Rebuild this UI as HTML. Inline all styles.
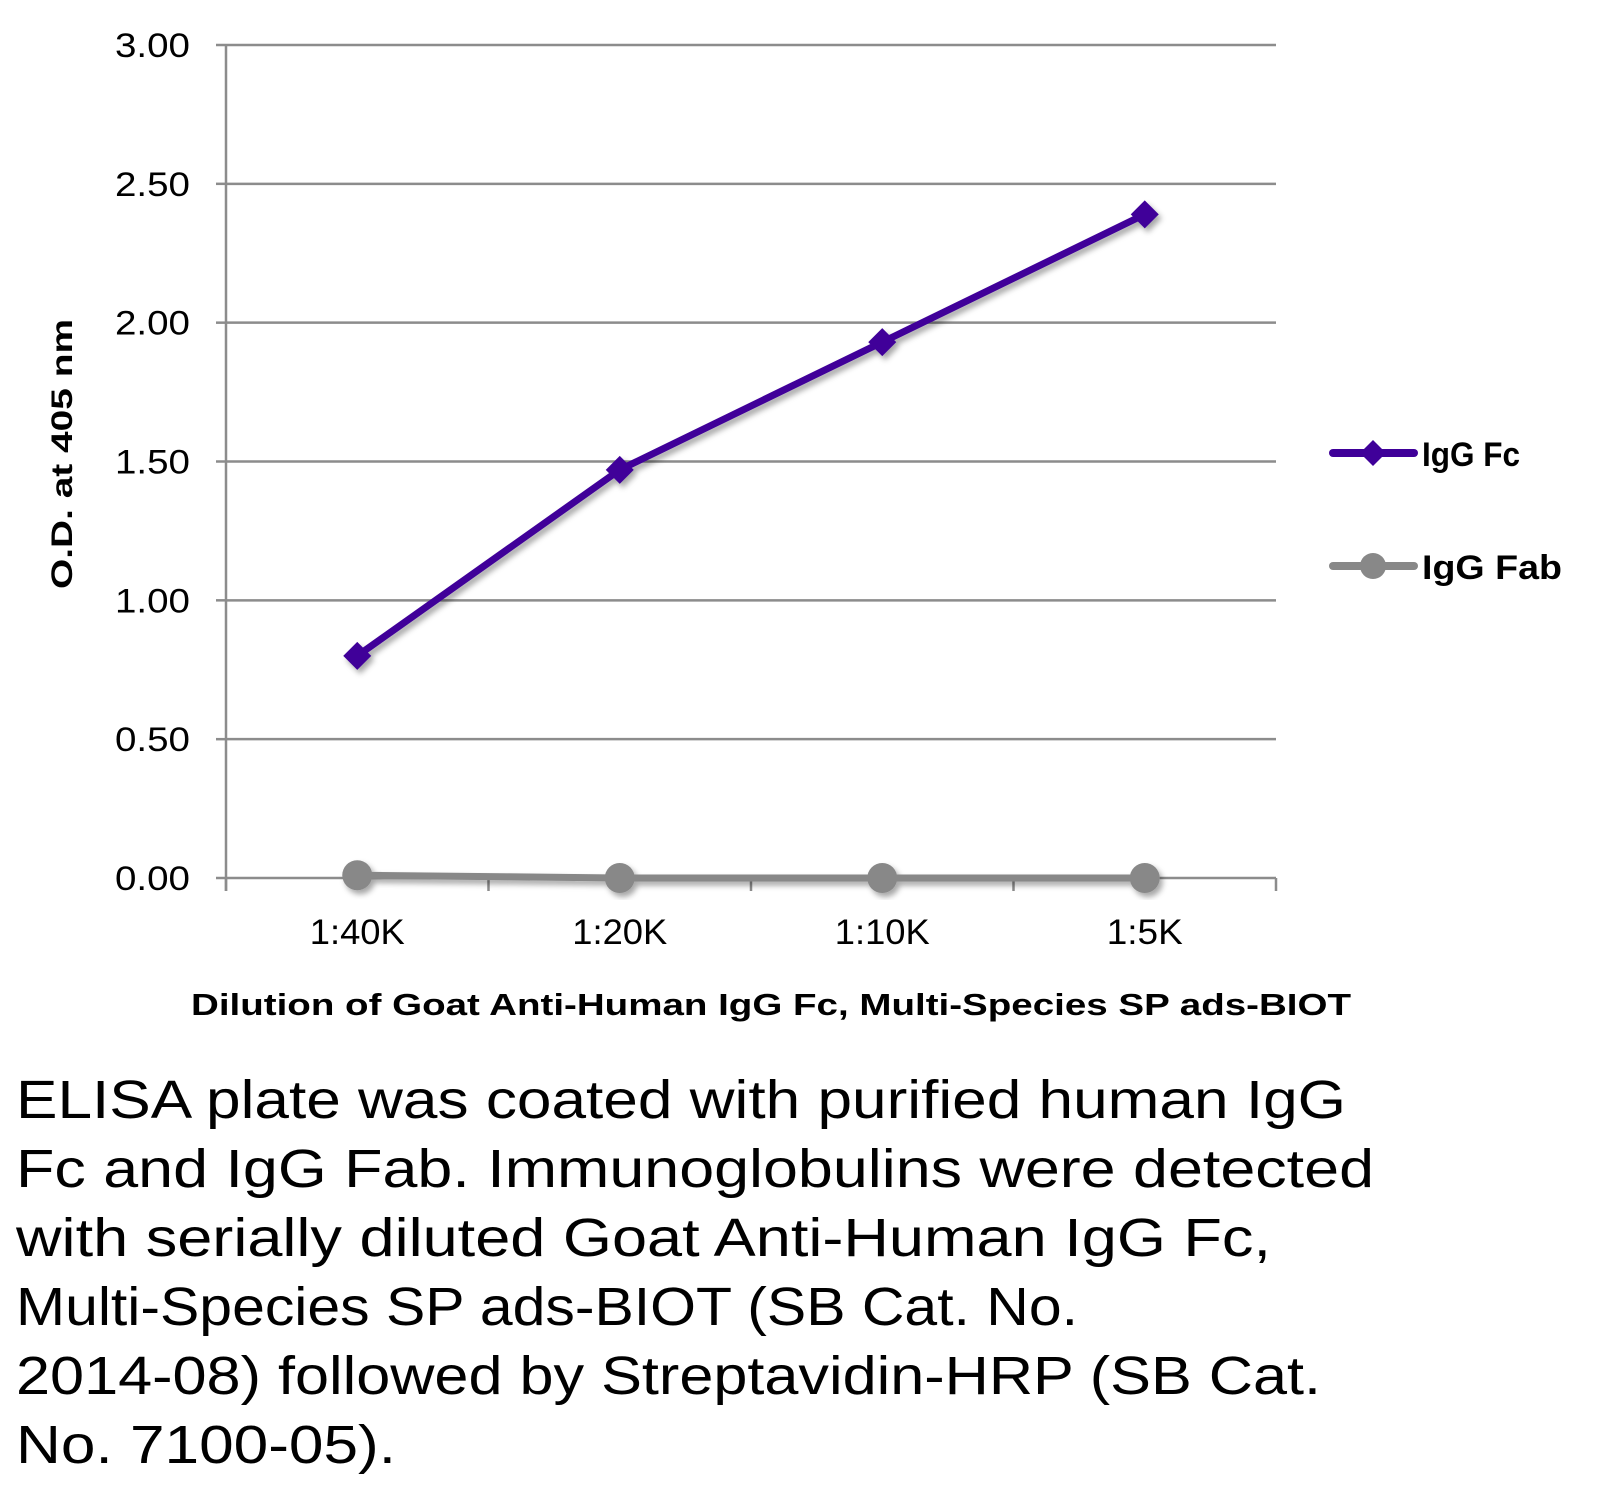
<!DOCTYPE html>
<html><head><meta charset="utf-8"><style>
html,body{margin:0;padding:0;background:#fff;}
svg{display:block;font-family:"Liberation Sans",sans-serif;}
</style></head><body>
<svg id="chart" width="1608" height="1485" viewBox="0 0 1608 1485">
<defs><filter id="sh" x="-20%" y="-20%" width="140%" height="140%"><feDropShadow dx="3" dy="4" stdDeviation="3" flood-color="#000" flood-opacity="0.35"/></filter></defs>
<g id="grid"></g><g id="axes"></g><g id="series"></g>
<text x="64" y="454" transform="rotate(-90 64 454)" text-anchor="middle" dominant-baseline="middle" font-size="30" font-weight="bold" textLength="270" lengthAdjust="spacingAndGlyphs">O.D. at 405 nm</text>
<text x="771" y="1015" text-anchor="middle" font-size="31" font-weight="bold" textLength="1160" lengthAdjust="spacingAndGlyphs">Dilution of Goat Anti-Human IgG Fc, Multi-Species SP ads-BIOT</text>
<g>
<g>
<line x1="1333" y1="453" x2="1414" y2="453" stroke="#3f0099" stroke-width="8" stroke-linecap="round"/>
<polygon points="1373,440 1386,453 1373,466 1360,453" fill="#3f0099"/>
<text x="1422" y="466" font-size="34" font-weight="bold" textLength="98" lengthAdjust="spacingAndGlyphs">IgG Fc</text></g>
<g>
<line x1="1333" y1="566" x2="1414" y2="566" stroke="#888" stroke-width="8" stroke-linecap="round"/>
<circle cx="1373" cy="566" r="13" fill="#888"/>
<text x="1422" y="579" font-size="34" font-weight="bold" textLength="140" lengthAdjust="spacingAndGlyphs">IgG Fab</text></g>
</g>
<g font-size="54">
<text x="16" y="1118" textLength="1330" lengthAdjust="spacingAndGlyphs">ELISA plate was coated with purified human IgG</text>
<text x="16" y="1187" textLength="1358" lengthAdjust="spacingAndGlyphs">Fc and IgG Fab.  Immunoglobulins were detected</text>
<text x="16" y="1256" textLength="1255" lengthAdjust="spacingAndGlyphs">with serially diluted Goat Anti-Human IgG Fc,</text>
<text x="16" y="1325" textLength="1062" lengthAdjust="spacingAndGlyphs">Multi-Species SP ads-BIOT (SB Cat. No.</text>
<text x="16" y="1394" textLength="1305" lengthAdjust="spacingAndGlyphs">2014-08) followed by Streptavidin-HRP (SB Cat.</text>
<text x="16" y="1463" textLength="380" lengthAdjust="spacingAndGlyphs">No. 7100-05).</text>
</g>
</svg>
<script>
const categories=["1:40K","1:20K","1:10K","1:5K"];
const fcValues=[0.80,1.47,1.93,2.39];
const fabValues=[0.01,0.00,0.00,0.00];
const yTicks=[0,0.5,1,1.5,2,2.5,3];
const yTickLabels=["0.00","0.50","1.00","1.50","2.00","2.50","3.00"];
const NS="http://www.w3.org/2000/svg";
const L=226,R=1276,T=45,B=878,YMAX=3;
const xs=i=>L+(R-L)/categories.length*(i+0.5);
const ys=v=>B-(B-T)*v/YMAX;
function mk(tag,attrs,parent,txt){const e=document.createElementNS(NS,tag);for(const k in attrs)e.setAttribute(k,attrs[k]);if(txt!==undefined)e.textContent=txt;parent.appendChild(e);return e;}
const grid=document.getElementById('grid'),axes=document.getElementById('axes'),ser=document.getElementById('series');
yTicks.forEach((v,i)=>{
 if(v>0){const g=mk('line',{x1:L,x2:R,y1:ys(v),y2:ys(v),stroke:'#8c8c8c','stroke-width':2.5},grid);
 
 }
 const tk=mk('line',{x1:L-10,x2:L,y1:ys(v),y2:ys(v),stroke:'#8c8c8c','stroke-width':2.5},axes);
 
 
 const t=mk('text',{x:190,y:ys(v)+12,'text-anchor':'end','font-size':34,textLength:75,lengthAdjust:'spacingAndGlyphs'},axes,yTickLabels[i]);
 
 
});
const ya=mk('line',{x1:L,x2:L,y1:T,y2:B+13,stroke:'#8c8c8c','stroke-width':2.5},axes);


const xa=mk('line',{x1:L,x2:R,y1:B,y2:B,stroke:'#8c8c8c','stroke-width':2.5},axes);


for(let i=0;i<=categories.length;i++){const x=L+(R-L)/categories.length*i;
 const tk=mk('line',{x1:x,x2:x,y1:B,y2:B+13,stroke:'#8c8c8c','stroke-width':2.5},axes);
 
 }
categories.forEach((c,i)=>{const t=mk('text',{x:xs(i),y:944,'text-anchor':'middle','font-size':35,textLength:c.length*19,lengthAdjust:'spacingAndGlyphs'},axes,c);
 
 });
function drawSeries(vals,color,shape,name){
 const g=mk('g',{filter:'url(#sh)'},ser);
 
 
 const pts=vals.map((v,i)=>xs(i)+','+ys(v)).join(' ');
 const pl=mk('polyline',{points:pts,fill:'none',stroke:color,'stroke-width':7,'stroke-linejoin':'round'},g);
 
 
 vals.forEach((v,i)=>{const x=xs(i),y=ys(v);let m;
  if(shape==='diamond')m=mk('polygon',{points:`${x},${y-14} ${x+14},${y} ${x},${y+14} ${x-14},${y}`,fill:color},g);
  else m=mk('circle',{cx:x,cy:y,r:15,fill:color},g);
  
  });
}
drawSeries(fabValues,'#888888','circle','igg-fab-series');
drawSeries(fcValues,'#3f0099','diamond','igg-fc-series');
</script>
</body></html>
